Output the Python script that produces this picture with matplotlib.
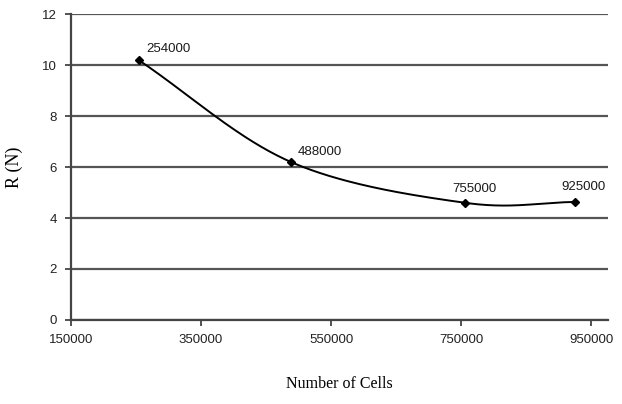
import matplotlib
matplotlib.use("Agg")
import matplotlib.pyplot as plt
import numpy as np

# data
cells = [254000, 488000, 755000, 925000]
force = [10.2, 6.2, 4.6, 4.63]
point_labels = ["254000", "488000", "755000", "925000"]
x_ticks = [150000, 350000, 550000, 750000, 950000]
y_ticks = [0, 2, 4, 6, 8, 10, 12]

# where each point label sits, in pixels from its point
label_offsets = [(8, 11), (7, 10), (-12, 14), (-14, 15)]


def smooth(xs, ys, n=60):
    '''Catmull-Rom curve through the points, like the spreadsheet "smoothed line"'''
    pts = np.column_stack([xs, ys]).astype(float)
    # scale to pixel-ish units so smoothing is not dominated by x range
    scale = np.array([1.0 / 200000 * 130.0, 25.5])
    p = pts * scale
    p = np.vstack([p[0] - (p[1] - p[0]), p, p[-1] + (p[-1] - p[-2])])
    out = []
    for i in range(1, len(p) - 2):
        p0, p1, p2, p3 = p[i - 1], p[i], p[i + 1], p[i + 2]
        t = np.linspace(0, 1, n)[:, None]
        seg = 0.5 * ((2 * p1) + (-p0 + p2) * t + (2 * p0 - 5 * p1 + 4 * p2 - p3) * t ** 2
                     + (-p0 + 3 * p1 - 3 * p2 + p3) * t ** 3)
        out.append(seg)
    out = np.vstack(out) / scale
    return out[:, 0], out[:, 1]


fig = plt.figure(figsize=(6.22, 4.04), dpi=100)
ax = fig.add_axes([0.114, 0.208, 0.863, 0.757])

sx, sy = smooth(cells, force)
ax.plot(sx, sy, color="black", lw=1.4, zorder=3)
ax.plot(cells, force, ls="none", marker="D", ms=4.5, color="black", zorder=4)

for x, y, lab, off in zip(cells, force, point_labels, label_offsets):
    ax.annotate(lab, xy=(x, y), xytext=off, textcoords="offset pixels",
                ha="left", va="center", fontsize=9.5, family="Liberation Sans", color="#1a1a1a")

ax.set_xlim(150000, 975000)
ax.set_ylim(0, 12)
ax.set_xticks(x_ticks)
ax.set_yticks(y_ticks)
ax.set_xticklabels([str(v) for v in x_ticks], family="Liberation Sans", fontsize=9.5, color="#222222")
ax.set_yticklabels([str(v) for v in y_ticks], family="Liberation Sans", fontsize=9.5, color="#222222")
ax.tick_params(axis="both", length=4, width=1.3, color="#444444", pad=6)

ax.grid(axis="y", color="#555555", lw=1.6)
ax.set_axisbelow(True)
for side in ["top", "right"]:
    ax.spines[side].set_visible(False)
ax.spines["left"].set_color("#444444")
ax.spines["left"].set_linewidth(1.6)
ax.spines["bottom"].set_color("#444444")
ax.spines["bottom"].set_linewidth(1.6)

ax.set_xlabel("Number of Cells", family="Liberation Serif", fontsize=11.5, labelpad=22)
ax.set_ylabel("R (N)", family="Liberation Serif", fontsize=13, labelpad=14)

fig.savefig("out.png", dpi=100)
